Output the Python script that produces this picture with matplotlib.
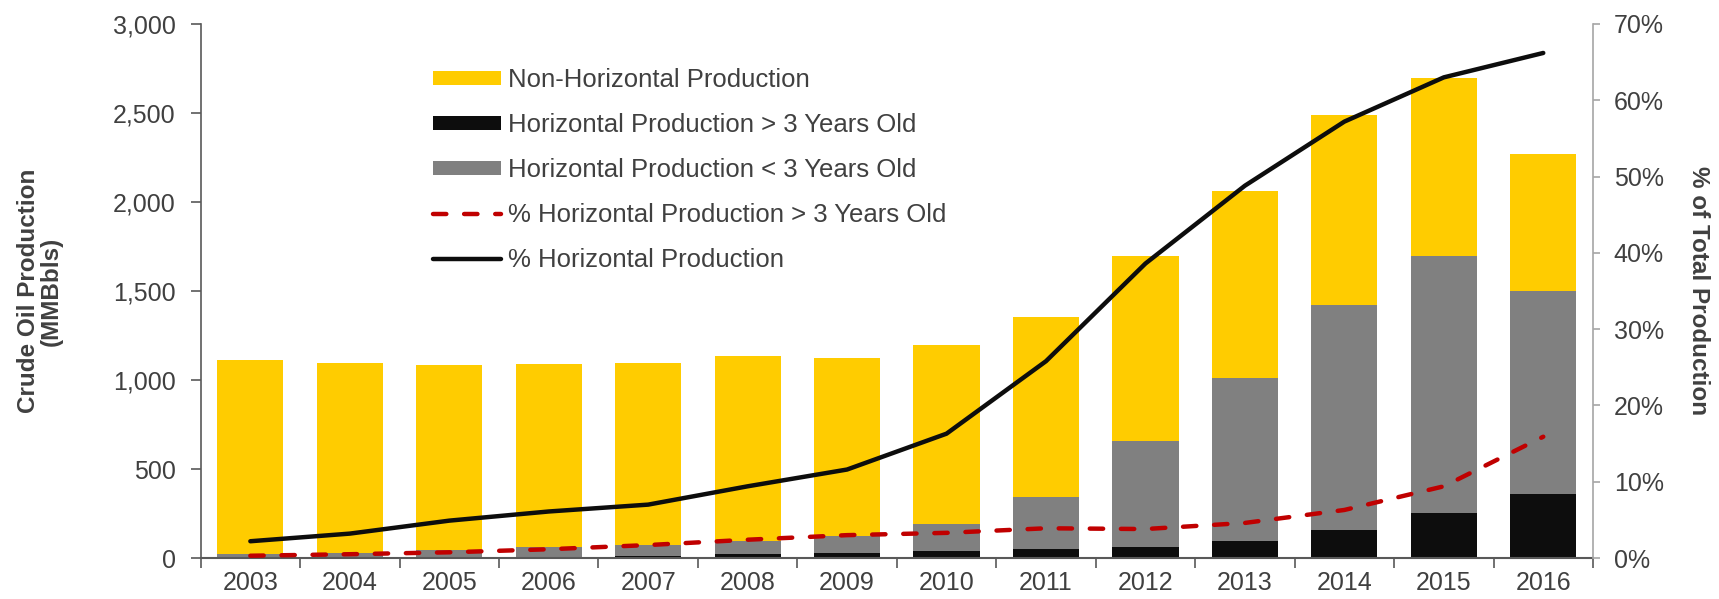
import matplotlib as mpl
mpl.use('Agg')
import matplotlib.pyplot as plt
from matplotlib.ticker import FuncFormatter, PercentFormatter
import numpy as np

plt.rcParams['font.family'] = ['Liberation Sans', 'DejaVu Sans']

years = ['2003', '2004', '2005', '2006', '2007', '2008', '2009',
         '2010', '2011', '2012', '2013', '2014', '2015', '2016']
# MMBbls
total = [1115, 1095, 1085, 1090, 1095, 1135, 1125, 1195, 1353, 1697, 2059, 2488, 2694, 2272]
horiz_total = [21, 30, 47, 60, 74, 98, 126, 190, 345, 658, 1009, 1421, 1695, 1502]
horiz_old = [0, 0, 2, 8, 13, 25, 30, 40, 49, 62, 94, 157, 255, 358]
# share of total production
pct_horiz = [2.2, 3.2, 4.9, 6.1, 7.0, 9.4, 11.6, 16.3, 25.8, 38.6, 48.8, 57.2, 63.0, 66.2]
pct_old = [0.3, 0.5, 0.75, 1.15, 1.7, 2.4, 3.0, 3.3, 3.9, 3.8, 4.6, 6.3, 9.4, 15.9]

yellow = '#FFCC00'
gray = '#808080'
black = '#0D0D0D'
red = '#C00000'
txt = '#404040'

x = np.arange(len(years))
horiz_new = [h - o for h, o in zip(horiz_total, horiz_old)]
non_horiz = [t - h for t, h in zip(total, horiz_total)]

fig = plt.figure(figsize=(17.19, 5.99), dpi=100)
ax = fig.add_axes([0.1167, 0.0684, 0.81, 0.8916])
ax2 = ax.twinx()

w = 0.665
b1 = ax.bar(x, horiz_old, w, color=black, label='Horizontal Production > 3 Years Old')
b2 = ax.bar(x, horiz_new, w, bottom=horiz_old, color=gray, label='Horizontal Production < 3 Years Old')
b3 = ax.bar(x, non_horiz, w, bottom=horiz_total, color=yellow, label='Non-Horizontal Production')

l1, = ax2.plot(x, [p / 100 for p in pct_old], color=red, lw=3.2, ls=(0, (3, 4)),
               dash_capstyle='round', label='% Horizontal Production > 3 Years Old')
l2, = ax2.plot(x, [p / 100 for p in pct_horiz], color=black, lw=3.2,
               label='% Horizontal Production', solid_capstyle='round')

ax.set_xlim(-0.5, len(years) - 0.5)
ax.set_ylim(0, 3000)
ax2.set_ylim(0, 0.7)
ax.set_yticks(range(0, 3001, 500))
ax.yaxis.set_major_formatter(FuncFormatter(lambda v, p: f'{int(v):,}'))
ax2.set_yticks(np.arange(0, 0.71, 0.1))
ax2.yaxis.set_major_formatter(PercentFormatter(1.0, decimals=0))

ax.set_xticks(np.arange(-0.5, len(years), 1))
ax.set_xticklabels([])
ax.set_xticks(x, minor=True)
ax.set_xticklabels(years, minor=True)
ax.tick_params(axis='x', which='minor', length=0, pad=9, labelsize=18, labelcolor=txt)
ax.tick_params(axis='x', which='major', length=7, color='#595959', width=1.2)
ax.tick_params(axis='y', length=7, color='#595959', labelsize=18, labelcolor=txt, pad=11, width=1.2)
ax2.tick_params(axis='y', length=5, color='#a6a6a6', labelsize=18, labelcolor=txt, pad=10, width=1.2)

for s in ['top', 'right']:
    ax.spines[s].set_visible(False)
ax2.spines['top'].set_visible(False)
ax2.spines['left'].set_visible(False)
ax2.spines['bottom'].set_visible(False)
ax2.spines['right'].set_color('#a6a6a6')
ax2.spines['right'].set_linewidth(1.2)
ax.spines['left'].set_color('#595959')
ax.spines['bottom'].set_color('#595959')
ax.spines['left'].set_linewidth(1.2)
ax.spines['bottom'].set_linewidth(1.5)

ax.set_ylabel('Crude Oil Production\n(MMBbls)', fontsize=17.5, fontweight='bold', color=txt,
              labelpad=36, linespacing=1.0)
ax2.set_ylabel('% of Total Production', fontsize=17.5, fontweight='bold', color=txt,
               rotation=270, labelpad=33)

leg = ax2.legend([b3, b1, b2, l1, l2],
                 [b3.get_label(), b1.get_label(), b2.get_label(), l1.get_label(), l2.get_label()],
                 loc='upper left', bbox_to_anchor=(0.167, 0.918), frameon=False, borderpad=0,
                 fontsize=18.5, labelspacing=0.82, handlelength=2.65, handleheight=0.45,
                 handletextpad=0.28, borderaxespad=0)
for t in leg.get_texts():
    t.set_color(txt)

fig.savefig('out.png', dpi=100)
